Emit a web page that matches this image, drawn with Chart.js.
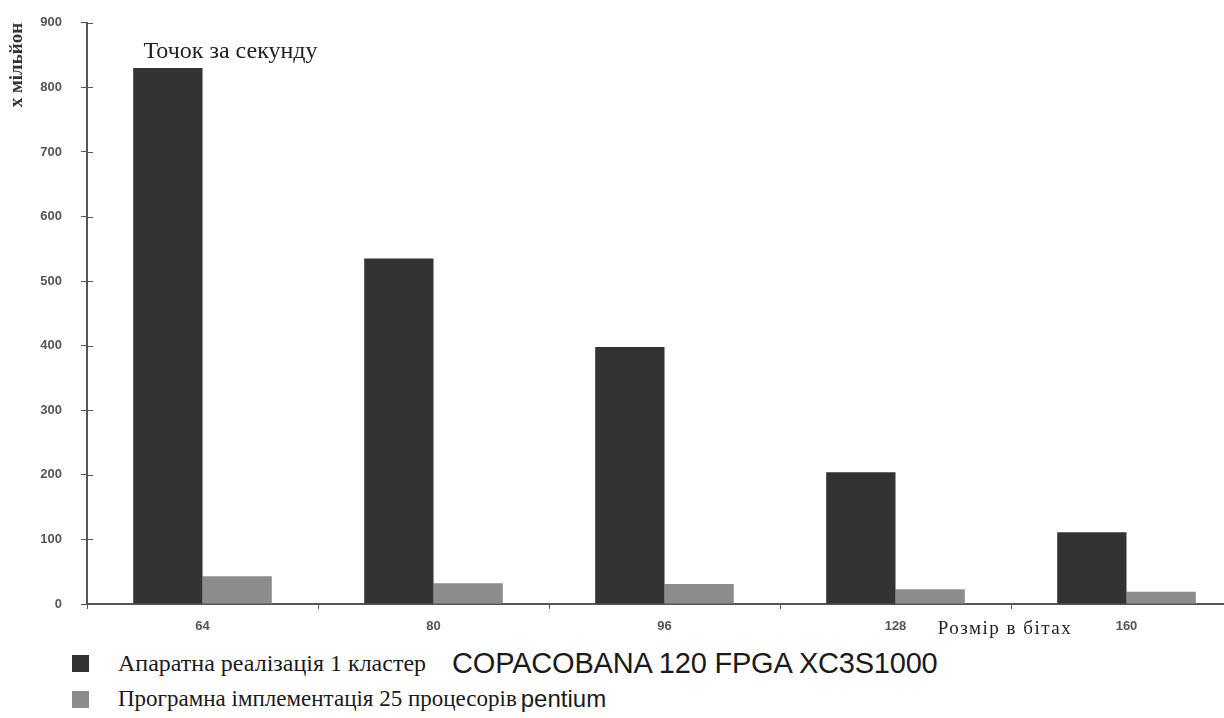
<!DOCTYPE html>
<html lang="uk">
<head>
<meta charset="utf-8">
<title>Точок за секунду</title>
<script src="https://cdn.jsdelivr.net/npm/chart.js@4.4.1/dist/chart.umd.min.js"></script>
<style>
    html, body { margin: 0; padding: 0; background: #fff; overflow: hidden; }
    #venster { position: relative; width: 1224px; height: 718px; overflow: hidden; }
    #grafiek { position: absolute; left: 0; top: -4px; }
    #legende { position: absolute; left: 72px; top: 645px; color: #1a1a1a; }
    .rij { display: flex; align-items: center; height: 36px; white-space: nowrap; }
    .blokje { width: 17px; height: 17px; margin-right: 29px; flex: none; }
    .serif { font-family: "Liberation Serif", "DejaVu Serif", serif; font-size: 24px; margin-right: 26px; }
    .sans { font-family: "Liberation Sans", Arial, sans-serif; font-size: 29px; letter-spacing: -0.2px; }
    .rij:last-child .serif { font-size: 23px; margin-right: 4px; }
    .rij:last-child .sans { font-size: 24px; letter-spacing: 0; }
</style>
</head>
<body>
<div id="venster">
    <canvas id="grafiek" width="1245" height="644"></canvas>
    <div id="legende"></div>
</div>
<script>
// Categorieën (grootte in bits) en waarden in miljoenen punten per seconde
const bitGroottes = ["64", "80", "96", "128", "160"];
const hardwareWaarden = [830, 535, 398, 204, 111];
const softwareWaarden = [43, 32, 31, 23, 19];
const yTicks = [0, 100, 200, 300, 400, 500, 600, 700, 800, 900];

// Legende teksten: serif deel + schreefloos deel
const hardwareLabel = ["Апаратна реалізація 1 кластер", "COPACOBANA 120 FPGA XC3S1000"];
const softwareLabel = ["Програмна імплементація 25 процесорів", "pentium"];

const donkerGrijs = "#333333";
const lichtGrijs = "#8c8c8c";
const asKleur = "#555555";

// Plugin voor de losse teksten in de grafiek + tickstreepjes door de y-as
const extraTeksten = {
    id: 'extraTeksten',
    afterDraw(chart) {
        const ctx = chart.ctx;
        const x = chart.scales.x;
        const y = chart.scales.y;
        ctx.save();
        // streepjes aan de binnenkant van de y-as
        ctx.strokeStyle = asKleur;
        ctx.lineWidth = 1;
        yTicks.forEach(v => {
            const py = Math.round(y.getPixelForValue(v)) + 0.5;
            ctx.beginPath();
            ctx.moveTo(chart.chartArea.left, py);
            ctx.lineTo(chart.chartArea.left + 6, py);
            ctx.stroke();
        });
        ctx.fillStyle = "#222";
        ctx.textBaseline = 'middle';
        ctx.font = '24px "Liberation Serif", serif';
        ctx.textAlign = 'left';
        ctx.fillText("Точок за секунду", x.getPixelForValue(0) - 59, y.getPixelForValue(856));
        ctx.font = '19px "Liberation Serif", serif';
        ctx.letterSpacing = '1.5px';
        ctx.textAlign = 'center';
        const midden = (x.getPixelForValue(3) + x.getPixelForValue(4)) / 2;
        ctx.fillText("Розмір в бітах", midden - 6, chart.chartArea.bottom + 25);
        ctx.restore();
    }
};

const ctx = document.getElementById('grafiek').getContext('2d');
const grafiek = new Chart(ctx, {
    type: 'bar',
    data: {
        labels: bitGroottes,
        datasets: [
            {
                label: hardwareLabel.join(" "),
                data: hardwareWaarden,
                backgroundColor: donkerGrijs,
                categoryPercentage: 0.6,
                barPercentage: 1.0
            },
            {
                label: softwareLabel.join(" "),
                data: softwareWaarden,
                backgroundColor: lichtGrijs,
                categoryPercentage: 0.6,
                barPercentage: 1.0
            }
        ]
    },
    options: {
        responsive: false,
        animation: false,
        layout: { padding: { top: 15, right: 3, left: 0, bottom: 0 } },
        plugins: {
            legend: { display: false },
            tooltip: { enabled: false }
        },
        scales: {
            x: {
                grid: { drawOnChartArea: false, tickLength: 5, color: asKleur, lineWidth: 1 },
                border: { color: asKleur, width: 2 },
                ticks: {
                    color: "#555",
                    font: { family: '"Liberation Sans", Arial, sans-serif', size: 13, weight: 'bold' },
                    padding: 10
                },
                afterFit: function(scale) { scale.height = 36; }
            },
            y: {
                min: 0,
                max: 900,
                afterBuildTicks: function(scale) {
                    scale.ticks = yTicks.map(v => ({ value: v }));
                },
                grid: { drawOnChartArea: false, tickLength: 6, color: asKleur, lineWidth: 1 },
                border: { color: asKleur, width: 2 },
                ticks: {
                    color: "#555",
                    font: { family: '"Liberation Sans", Arial, sans-serif', size: 13, weight: 'bold' },
                    padding: 19
                },
                title: {
                    display: true,
                    text: "х мільйон",
                    align: 'end',
                    color: "#333",
                    font: { family: '"Liberation Serif", serif', size: 19, weight: 'bold' },
                    padding: { top: 6, bottom: 0 }
                },
                afterFit: function(scale) { scale.width = 87; }
            }
        }
    },
    plugins: [extraTeksten]
});

// Legende onder de grafiek opbouwen
const legende = document.getElementById('legende');
[
    { kleur: donkerGrijs, tekst: hardwareLabel },
    { kleur: lichtGrijs, tekst: softwareLabel }
].forEach(item => {
    const rij = document.createElement('div');
    rij.className = 'rij';
    rij.innerHTML = `<span class="blokje" style="background:${item.kleur}"></span>`
        + `<span class="serif">${item.tekst[0]}</span>`
        + `<span class="sans">${item.tekst[1]}</span>`;
    legende.appendChild(rij);
});
</script>
</body>
</html>
